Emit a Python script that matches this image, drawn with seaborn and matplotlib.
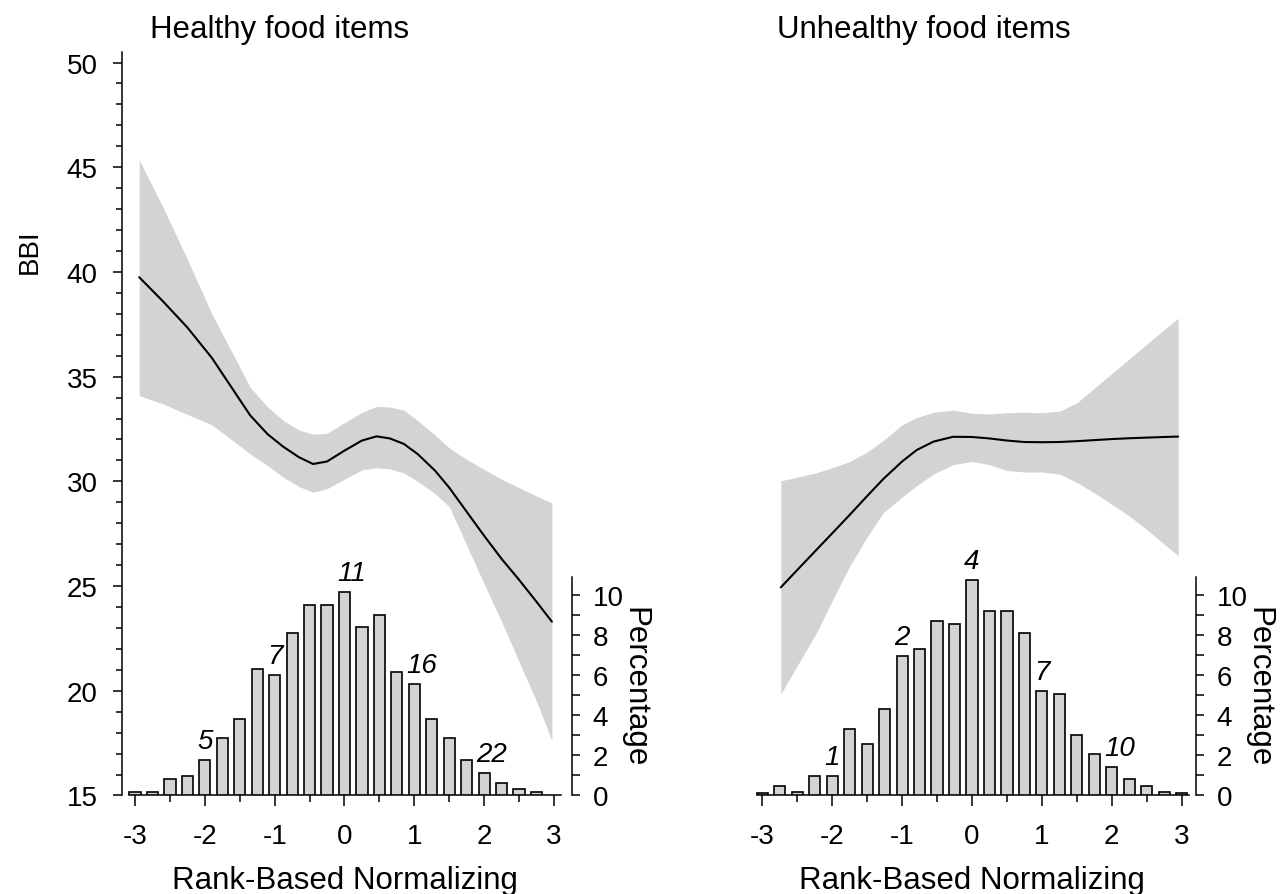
import matplotlib
matplotlib.use("Agg")
import matplotlib.pyplot as plt
import matplotlib.transforms as mtransforms
from matplotlib.ticker import MultipleLocator, FixedLocator
import seaborn as sns

sns.set_theme(style="ticks")
plt.rcParams['font.family'] = ['Liberation Sans', 'DejaVu Sans']
plt.rcParams['axes.unicode_minus'] = False
plt.rcParams['text.color'] = 'black'
plt.rcParams['axes.labelcolor'] = 'black'
plt.rcParams['xtick.color'] = 'black'
plt.rcParams['ytick.color'] = 'black'

# ---------------------------------------------------------
# data
# ---------------------------------------------------------
healthy_x = [-2.94, -2.6, -2.25, -1.9, -1.5, -1.35, -1.1, -0.875, -0.65, -0.45, -0.25, 0.0,
             0.25, 0.46, 0.65, 0.85, 1.05, 1.3, 1.5, 1.75, 2.0, 2.25, 2.5, 2.75, 2.97]
healthy_fit = [39.75, 38.6, 37.35, 35.9, 33.9, 33.15, 32.25, 31.65, 31.15, 30.83, 30.95, 31.47,
               31.95, 32.15, 32.05, 31.79, 31.3, 30.5, 29.7, 28.55, 27.4, 26.3, 25.3, 24.25, 23.3]
healthy_hi = [45.35, 43.1, 40.6, 38.0, 35.46, 34.49, 33.55, 32.9, 32.45, 32.25, 32.3, 32.8,
              33.3, 33.58, 33.55, 33.4, 32.9, 32.2, 31.6, 31.05, 30.57, 30.1, 29.7, 29.3, 28.97]
healthy_lo = [34.1, 33.7, 33.2, 32.7, 31.7, 31.31, 30.75, 30.2, 29.75, 29.48, 29.65, 30.11,
              30.55, 30.65, 30.6, 30.4, 30.0, 29.4, 28.8, 26.95, 25.1, 23.3, 21.4, 19.5, 17.6]

unhealthy_x = [-2.735, -2.5, -2.22, -2.0, -1.75, -1.5, -1.27, -1.0, -0.79, -0.55, -0.27, 0.0,
               0.25, 0.5, 0.75, 1.0, 1.25, 1.5, 1.75, 2.0, 2.25, 2.5, 2.75, 2.95]
unhealthy_fit = [24.94, 25.77, 26.75, 27.52, 28.4, 29.3, 30.11, 30.95, 31.5, 31.9, 32.13, 32.12,
                 32.05, 31.95, 31.88, 31.87, 31.88, 31.92, 31.97, 32.02, 32.06, 32.09, 32.12, 32.14]
unhealthy_hi = [30.03, 30.2, 30.42, 30.65, 30.95, 31.4, 31.95, 32.7, 33.05, 33.3, 33.4, 33.25,
                33.22, 33.28, 33.3, 33.28, 33.35, 33.75, 34.45, 35.15, 35.85, 36.55, 37.25, 37.79]
unhealthy_lo = [19.85, 21.2, 22.8, 24.3, 25.95, 27.35, 28.5, 29.25, 29.8, 30.35, 30.8, 30.95,
                30.8, 30.52, 30.45, 30.45, 30.35, 29.95, 29.45, 28.9, 28.35, 27.7, 27.0, 26.45]

healthy_bins = [-3.0, -2.75, -2.5, -2.25, -2.0, -1.75, -1.5, -1.25, -1.0, -0.75, -0.5, -0.25,
                0.0, 0.25, 0.5, 0.75, 1.0, 1.25, 1.5, 1.75, 2.0, 2.25, 2.5, 2.75]
healthy_pct = [0.17, 0.17, 0.8, 0.95, 1.75, 2.87, 3.8, 6.33, 6.0, 8.1, 9.53, 9.53,
               10.15, 8.4, 9.03, 6.18, 5.57, 3.8, 2.87, 1.75, 1.12, 0.63, 0.32, 0.17]

unhealthy_bins = [-3.0, -2.75, -2.5, -2.25, -2.0, -1.75, -1.5, -1.25, -1.0, -0.75, -0.5, -0.25,
                  0.0, 0.25, 0.5, 0.75, 1.0, 1.25, 1.5, 1.75, 2.0, 2.25, 2.5, 2.75, 3.0]
unhealthy_pct = [0.12, 0.48, 0.18, 0.95, 0.95, 3.33, 2.57, 4.3, 6.97, 7.3, 8.72, 8.58,
                 10.78, 9.2, 9.2, 8.1, 5.23, 5.08, 3.03, 2.08, 1.43, 0.8, 0.48, 0.18, 0.12]

mark_x = [-2, -1, 0, 1, 2]
healthy_marks = ["5", "7", "11", "16", "22"]
unhealthy_marks = ["1", "2", "4", "7", "10"]

GREY = "#d3d3d3"
FS_TICK = 20
FS_LAB = 22.5


def draw_panel(fig, rect, xlim, xs, fit, lo, hi, bins, pct, marks, title, show_y):
    ax = fig.add_axes(rect)
    ax.fill_between(xs, lo, hi, color=GREY, linewidth=0)
    sns.lineplot(x=xs, y=fit, ax=ax, color="black", linewidth=1.5, sort=False)
    ax.set_xlim(*xlim)
    ax.set_ylim(15, 50.49)
    ax.set_xticks([-3, -2, -1, 0, 1, 2, 3])
    ax.xaxis.set_minor_locator(MultipleLocator(0.5))
    ax.tick_params(axis="x", which="major", length=8, width=1.1, pad=12,
                   labelsize=FS_TICK)
    ax.tick_params(axis="x", which="minor", length=5, width=1.1)
    ax.spines["bottom"].set_bounds(-3.08, 3.1)
    for s in ["top", "right"]:
        ax.spines[s].set_visible(False)
    for s in ax.spines.values():
        s.set_linewidth(1.1)
        s.set_color("black")
    if show_y:
        ax.yaxis.set_major_locator(MultipleLocator(5))
        ax.yaxis.set_minor_locator(MultipleLocator(1))
        ax.tick_params(axis="y", which="major", length=6.5, width=1.1, pad=11,
                       labelsize=FS_TICK)
        ax.tick_params(axis="y", which="minor", length=4, width=1.1)
    else:
        ax.spines["left"].set_visible(False)
        ax.set_yticks([])
    ax.set_xlabel("")
    ax.set_ylabel("")

    # histogram on a percentage scale sharing the baseline
    axt = ax.twinx()
    sns.barplot(x=bins, y=pct, ax=axt, native_scale=True, width=0.64,
                color=GREY, saturation=1, edgecolor="black", linewidth=1.2)
    axt.set_xlim(*xlim)
    axt.set_ylim(0, 37.16)
    axt.set_yticks([0, 2, 4, 6, 8, 10])
    axt.yaxis.set_minor_locator(FixedLocator([1, 3, 5, 7, 9]))
    axt.tick_params(axis="y", which="both", length=6, width=1.1, pad=9,
                    labelsize=FS_TICK)
    for s in ["top", "left", "bottom"]:
        axt.spines[s].set_visible(False)
    axt.spines["right"].set_bounds(0, 10.9)
    axt.spines["right"].set_linewidth(1.1)
    axt.spines["right"].set_color("black")
    axt.set_xlabel("")
    axt.set_ylabel("")

    for xm, txt in zip(mark_x, marks):
        h = pct[bins.index(float(xm))]
        axt.text(xm - 0.11, h + 0.6, txt, fontsize=20, style="italic",
                 ha="left", va="baseline")

    trans = mtransforms.blended_transform_factory(axt.transAxes, axt.transData)
    axt.text(1.14, 5.45, "Percentage", transform=trans, rotation=-90,
             fontsize=FS_LAB, ha="center", va="center")

    ax.text(0.063, 1.0206, title, transform=ax.transAxes, fontsize=FS_LAB,
            ha="left", va="baseline")
    xtrans = mtransforms.blended_transform_factory(ax.transData, ax.transAxes)
    ax.text(0, -0.1245, "Rank-Based Normalizing", transform=xtrans,
            fontsize=FS_LAB, ha="center", va="baseline")
    return ax, axt


fig = plt.figure(figsize=(12.85, 8.95), dpi=100)
fig.patch.set_facecolor("white")

draw_panel(fig, [0.09494, 0.11006, 0.34996, 0.83039], (-3.1862, 3.2536),
           healthy_x, healthy_fit, healthy_lo, healthy_hi,
           healthy_bins, healthy_pct, healthy_marks, "Healthy food items", True)
draw_panel(fig, [0.58311, 0.11006, 0.34763, 0.83039], (-3.1862, 3.205),
           unhealthy_x, unhealthy_fit, unhealthy_lo, unhealthy_hi,
           unhealthy_bins, unhealthy_pct, unhealthy_marks, "Unhealthy food items", False)

fig.text(30 / 1285, 1 - 252 / 895, "BBI", rotation=90, fontsize=FS_TICK,
         ha="center", va="center")

fig.savefig("out.png", dpi=100, facecolor="white")
